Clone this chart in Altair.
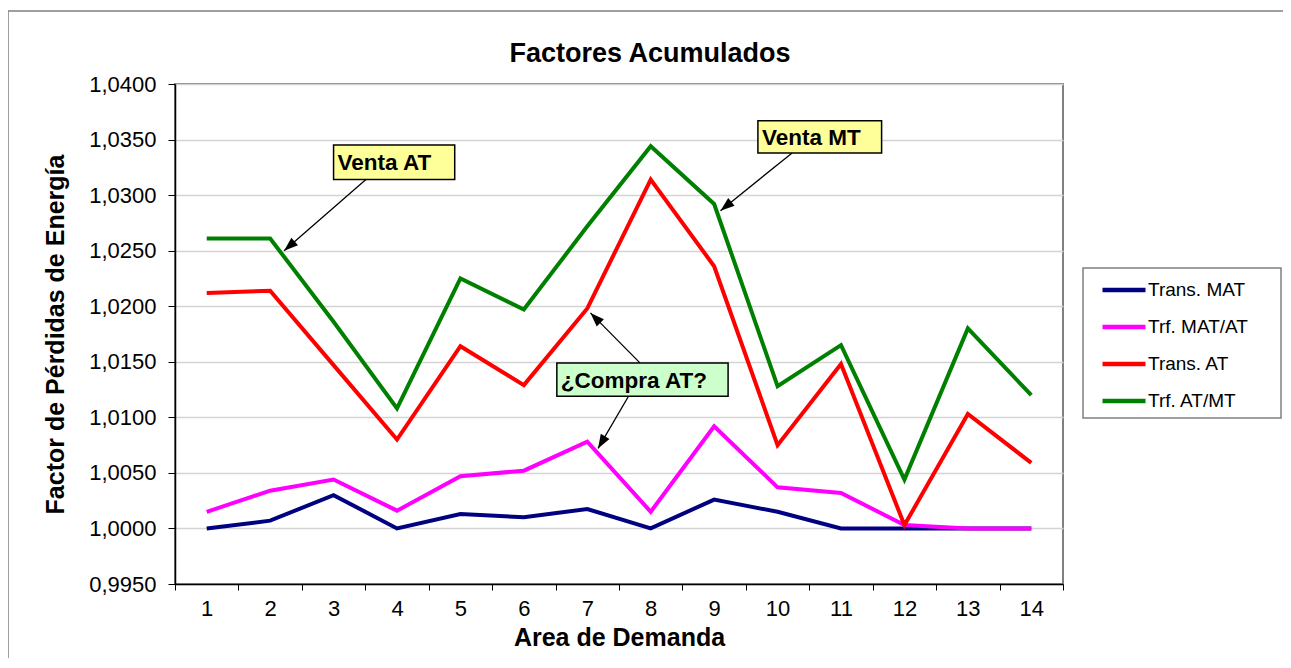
import math
import altair as alt
import pandas as pd

# ---------------- data ----------------
areas = list(range(1, 15))
trans_mat = [1.0000, 1.0007, 1.0030, 1.0000, 1.0013, 1.0010, 1.00175, 1.0000, 1.0026, 1.0015, 1.0000, 1.0000, 1.0000, 1.0000]
trf_mat_at = [1.0015, 1.0034, 1.0044, 1.0016, 1.0047, 1.0052, 1.0078, 1.0015, 1.0092, 1.0037, 1.0032, 1.0003, 1.0000, 1.0000]
trans_at = [1.0212, 1.0214, 1.0147, 1.0080, 1.0164, 1.0129, 1.0198, 1.0314, 1.0236, 1.0075, 1.0148, 1.0003, 1.0103, 1.0059]
trf_at_mt = [1.0261, 1.0261, 1.0186, 1.0108, 1.0225, 1.0197, 1.0272, 1.0344, 1.0292, 1.0128, 1.0165, 1.0044, 1.0180, 1.0120]

series_names = ["Trans. MAT", "Trf. MAT/AT", "Trans. AT", "Trf. AT/MT"]
series_colors = ["#000080", "#FF00FF", "#FF0000", "#008000"]
series_values = [trans_mat, trf_mat_at, trans_at, trf_at_mt]

y_ticks = [0.9950, 1.0000, 1.0050, 1.0100, 1.0150, 1.0200, 1.0250, 1.0300, 1.0350, 1.0400]
x_bounds = [0.5, 1.5, 2.5, 3.5, 4.5, 5.5, 6.5, 7.5, 8.5, 9.5, 10.5, 11.5, 12.5, 13.5, 14.5]

chart_title = "Factores Acumulados"
x_title = "Area de Demanda"
y_title = "Factor de Pérdidas de Energía"

# annotation boxes (data coordinates)
box_labels = ["Venta AT", "Venta MT", "¿Compra AT?"]
box_x1 = [3.00, 9.69, 6.52]
box_x2 = [4.91, 11.64, 9.22]
box_y1 = [1.0345, 1.0367, 1.0149]
box_y2 = [1.0314, 1.0338, 1.0119]
box_fill = ["#FFFF99", "#FFFF99", "#CCFFCC"]

# arrows: start -> tip (data coordinates)
arrow_x_start = [3.51, 10.23, 7.83, 7.65]
arrow_y_start = [1.0314, 1.0338, 1.0149, 1.0119]
arrow_x_tip = [2.22, 9.10, 7.05, 7.17]
arrow_y_tip = [1.0250, 1.0286, 1.0194, 1.0072]

# ---------------- tables ----------------
rows = []
for name, vals in zip(series_names, series_values):
    for a, v in zip(areas, vals):
        rows.append({"Serie": name, "x": a, "y": v})
df = pd.DataFrame(rows)

boxes = pd.DataFrame({"label": box_labels, "x": box_x1, "x2": box_x2,
                      "y": box_y1, "y2": box_y2, "fill": box_fill})
boxes["ym"] = (boxes["y"] + boxes["y2"]) / 2

W, H = 888, 500
px_x = W / (x_bounds[-1] - x_bounds[0])
px_y = H / (y_ticks[-1] - y_ticks[0])
angles = []
for xs, ys, xt, yt in zip(arrow_x_start, arrow_y_start, arrow_x_tip, arrow_y_tip):
    dx = (xt - xs) * px_x
    dy = -(yt - ys) * px_y
    angles.append((math.degrees(math.atan2(dx, -dy)) + 360) % 360)
arrows = pd.DataFrame({"x": arrow_x_start, "y": arrow_y_start,
                       "x2": arrow_x_tip, "y2": arrow_y_tip, "ang": angles})

FONT = "Liberation Sans"

xscale = alt.Scale(domain=[x_bounds[0], x_bounds[-1]], nice=False, zero=False)
yscale = alt.Scale(domain=[y_ticks[0], y_ticks[-1]], nice=False, zero=False)

xaxis = alt.Axis(values=x_bounds,
                 labelExpr="datum.value < 14 ? format(datum.value + 0.5, 'd') : ''",
                 labelOffset=px_x / 2, labelFlush=False, labelOverlap=False,
                 grid=False, tickSize=6, tickColor="#000000", tickWidth=1,
                 domainColor="#000000", domainWidth=1.5,
                 labelFontSize=22, labelFont=FONT, labelColor="#000000", labelPadding=8,
                 title=x_title, titleFontSize=25, titleFont=FONT, titleFontWeight="bold",
                 titleColor="#000000", titlePadding=6)
yaxis = alt.Axis(values=y_ticks,
                 labelExpr="replace(format(datum.value, '.4f'), '.', ',')",
                 labelFlush=False, labelOverlap=False,
                 grid=True, gridColor="#D4D4D4", gridWidth=1.5,
                 tickSize=7, tickColor="#000000", tickWidth=1,
                 domainColor="#000000", domainWidth=1.5,
                 labelFontSize=22, labelFont=FONT, labelColor="#000000", labelPadding=12,
                 title=y_title, titleFontSize=25, titleFont=FONT, titleFontWeight="bold",
                 titleColor="#000000", titlePadding=20)


def X(f):
    return alt.X(f, type="quantitative", scale=xscale, axis=xaxis)


def Y(f):
    return alt.Y(f, type="quantitative", scale=yscale, axis=yaxis)


one = pd.DataFrame({"t": [chart_title]})

# legend frame (decoration)
legend_box = alt.Chart(one).mark_rect(fill="#FFFFFF", stroke="#808080", strokeWidth=1.5).encode(
    x=alt.value(908), x2=alt.value(1106), y=alt.value(184), y2=alt.value(334))

lines = alt.Chart(df).mark_line(strokeWidth=4, strokeJoin="miter").encode(
    x=X("x"), y=Y("y"),
    color=alt.Color("Serie:N",
                    scale=alt.Scale(domain=series_names, range=series_colors),
                    sort=series_names,
                    legend=alt.Legend(orient="none", legendX=925, legendY=182, title=None,
                                      padding=0, labelFontSize=19, labelFont=FONT,
                                      labelColor="#000000", labelLimit=0, labelOffset=0,
                                      symbolType="stroke", symbolSize=1849,
                                      symbolStrokeWidth=4.5, rowPadding=3)),
    order=alt.Order("x:Q"),
)

shafts = alt.Chart(arrows).mark_rule(color="#000000", strokeWidth=1.3).encode(
    x=X("x"), y=Y("y"), x2="x2", y2="y2")

heads = alt.Chart(arrows).mark_point(
    shape="M0,0 L-0.36,1 L0.36,1 Z", filled=True, color="#000000", size=784, opacity=1
).encode(x=X("x2"), y=Y("y2"), angle=alt.Angle("ang:Q", scale=None))

box_rects = alt.Chart(boxes).mark_rect(stroke="#000000", strokeWidth=1.5).encode(
    x=X("x"), x2="x2", y=Y("y"), y2="y2",
    fill=alt.Fill("fill:N", scale=None))

box_texts = alt.Chart(boxes).mark_text(
    align="left", baseline="middle", dx=4, dy=1, fontSize=22.5, fontWeight="bold",
    font=FONT, color="#000000"
).encode(x=X("x"), y=Y("ym"), text="label:N")

title_mark = alt.Chart(one).mark_text(
    align="center", baseline="alphabetic", fontSize=27, fontWeight="bold",
    font=FONT, color="#000000"
).encode(x=alt.value(475), y=alt.value(-22), text="t:N")

frame = alt.Chart(one).mark_rect(filled=False, stroke="#808080", strokeWidth=1.5).encode(
    x=alt.value(-167), x2=alt.value(1300), y=alt.value(-73), y2=alt.value(700))

chart = alt.layer(legend_box, lines, shafts, heads, box_rects, box_texts, title_mark, frame).properties(
    width=W, height=H,
    autosize=alt.AutoSizeParams(type="none"),
    padding={"left": 167, "top": 76, "right": 220, "bottom": 74},
    background="#FFFFFF",
).configure_view(stroke="#808080", strokeWidth=2)

chart.save("out.html", embed_options={"renderer": "svg", "actions": False})
